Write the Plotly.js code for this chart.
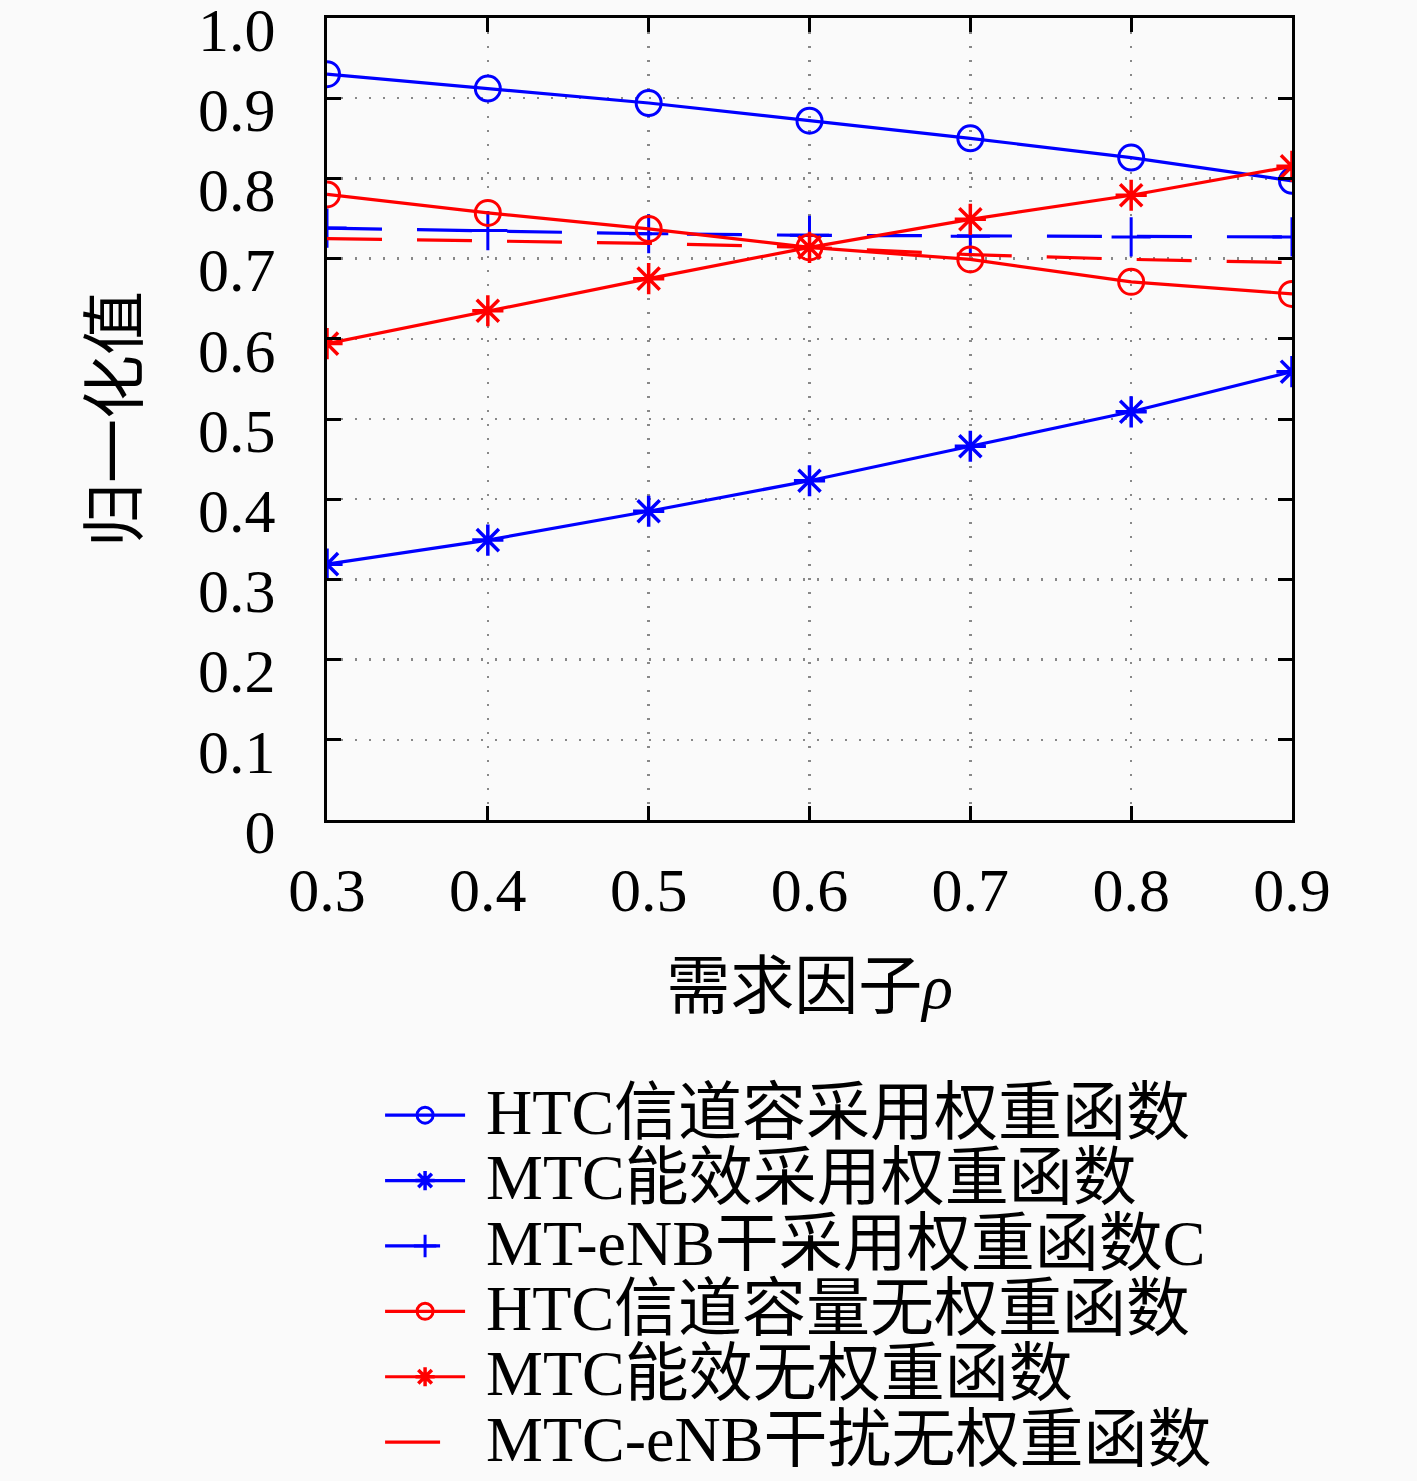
<!DOCTYPE html>
<html>
<head>
<meta charset="utf-8">
<script src="https://cdn.plot.ly/plotly-3.0.1.min.js"></script>
<style>html,body{margin:0;padding:0;background:#fafafa;}</style>
</head>
<body>
<div id="chart" style="width:1417px;height:1481px;"></div>
<script>
const rho = [0.3, 0.4, 0.5, 0.6, 0.7, 0.8, 0.9];
const htcWeighted = [0.930, 0.912, 0.894, 0.872, 0.850, 0.826, 0.797];
const mtcWeighted = [0.319, 0.349, 0.385, 0.423, 0.466, 0.509, 0.559];
const enbWeighted = [0.738, 0.735, 0.731, 0.729, 0.728, 0.727, 0.727];
const htcNoWeight = [0.780, 0.757, 0.737, 0.714, 0.699, 0.671, 0.656];
const mtcNoWeight = [0.594, 0.635, 0.675, 0.714, 0.749, 0.779, 0.815];
const enbNoWeight = [0.725, 0.722, 0.719, 0.714, 0.705, 0.699, 0.695];

const seriesNames = [
  'HTC信道容采用权重函数',
  'MTC能效采用权重函数',
  'MT-eNB干采用权重函数C',
  'HTC信道容量无权重函数',
  'MTC能效无权重函数',
  'MTC-eNB干扰无权重函数'
];
const xTickVals = [0.3, 0.4, 0.5, 0.6, 0.7, 0.8, 0.9];
const xTickText = ['0.3', '0.4', '0.5', '0.6', '0.7', '0.8', '0.9'];
const yTickVals = [0, 0.1, 0.2, 0.3, 0.4, 0.5, 0.6, 0.7, 0.8, 0.9, 1.0];
const yTickText = ['0', '0.1', '0.2', '0.3', '0.4', '0.5', '0.6', '0.7', '0.8', '0.9', '1.0'];

const BLUE = '#0000ff', RED = '#ff0000';
const FONT = 'Liberation Serif, DejaVu Serif, Noto Sans CJK SC, serif';
const legName = n => '<span style="font-size:64px">\u00a0' + n + '</span>';

const traces = [
  {x: rho, y: htcWeighted, name: legName(seriesNames[0]), mode: 'lines+markers',
   line: {color: BLUE, width: 3.2}, marker: {symbol: 'circle-open', size: 25, color: BLUE, line: {width: 3, color: BLUE}}},
  {x: rho, y: mtcWeighted, name: legName(seriesNames[1]), mode: 'lines+markers',
   line: {color: BLUE, width: 3.2}, marker: {symbol: 'asterisk-open', size: 26, color: BLUE, line: {width: 3.5, color: BLUE}}},
  {x: rho, y: enbWeighted, name: legName(seriesNames[2]), mode: 'lines+markers',
   line: {color: BLUE, width: 3.2, dash: '55px,35px'}, marker: {symbol: 'cross-thin-open', size: 28, color: BLUE, line: {width: 3, color: BLUE}}},
  {x: rho, y: htcNoWeight, name: legName(seriesNames[3]), mode: 'lines+markers',
   line: {color: RED, width: 3.2}, marker: {symbol: 'circle-open', size: 25, color: RED, line: {width: 3, color: RED}}},
  {x: rho, y: mtcNoWeight, name: legName(seriesNames[4]), mode: 'lines+markers',
   line: {color: RED, width: 3.2}, marker: {symbol: 'asterisk-open', size: 26, color: RED, line: {width: 3.5, color: RED}}},
  {x: rho, y: enbNoWeight, name: legName(seriesNames[5]), mode: 'lines',
   line: {color: RED, width: 3.2, dash: '55px,35px'}}
];

const axisCommon = {
  showline: true, linecolor: '#000', linewidth: 3, mirror: 'ticks',
  ticks: 'inside', ticklen: 14, tickwidth: 3, tickcolor: '#000',
  showgrid: true, gridcolor: '#888', gridwidth: 2.5, griddash: '2px,12px',
  zeroline: false, ticklabeloverflow: 'allow',
  tickfont: {family: FONT, size: 62, color: '#000'}
};

const layout = {
  width: 1417, height: 1481,
  margin: {l: 327, r: 125, t: 18, b: 661, autoexpand: false},
  paper_bgcolor: '#fafafa', plot_bgcolor: '#fafafa',
  showlegend: true,
  legend: {x: 0.055, xanchor: 'left', y: -0.321, yanchor: 'top',
           bgcolor: 'rgba(0,0,0,0)', font: {family: FONT, size: 48, color: '#000'},
           itemwidth: 80, tracegroupgap: 0},
  xaxis: Object.assign({}, axisCommon, {
    range: [0.3, 0.9], tickmode: 'array', tickvals: xTickVals, ticktext: xTickText,
    ticklabelstandoff: 14,
    title: {text: '需求因子<i>ρ</i>', font: {family: FONT, size: 64, color: '#000'}, standoff: 40}
  }),
  yaxis: Object.assign({}, axisCommon, {
    range: [0, 1], tickmode: 'array', tickvals: yTickVals, ticktext: yTickText,
    ticklabelstandoff: 36, ticklabelshift: 11,
    title: {text: '归一化值', font: {family: FONT, size: 64, color: '#000'}, standoff: 40}
  })
};

Plotly.newPlot('chart', traces, layout, {displayModeBar: false, staticPlot: true});
</script>
</body>
</html>
